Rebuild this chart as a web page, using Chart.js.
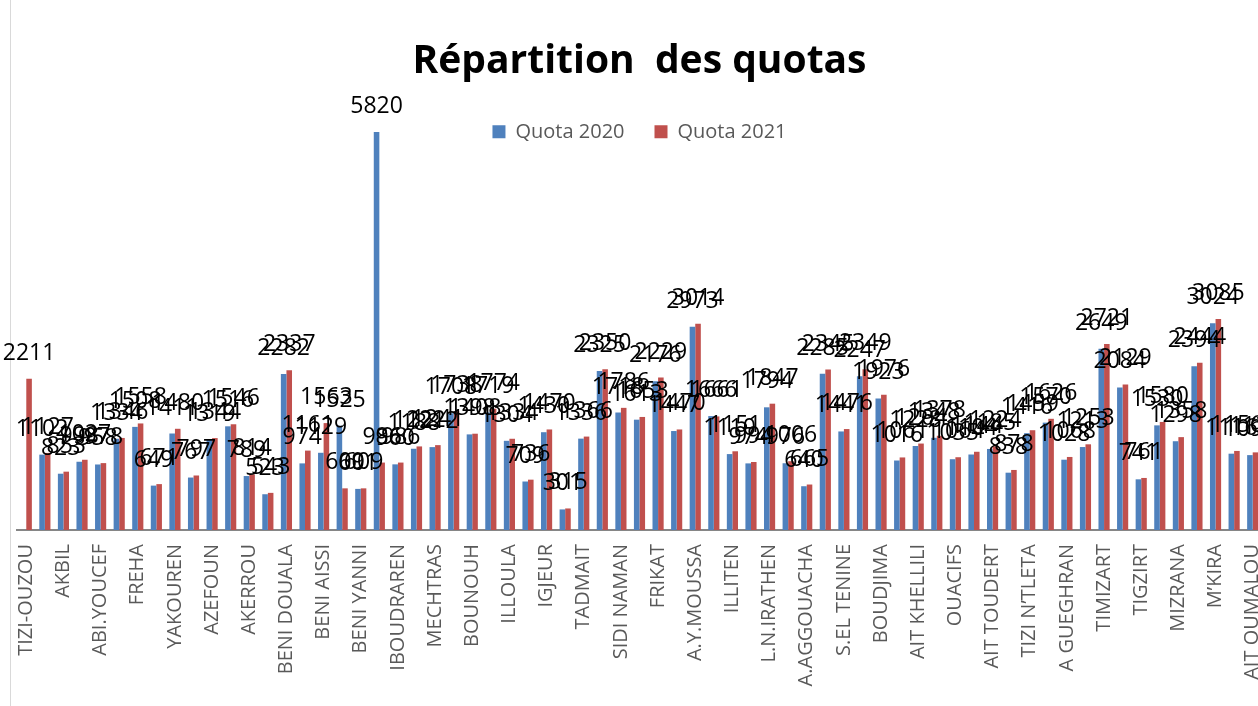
<!DOCTYPE html>
<html>
<head>
<meta charset="utf-8">
<script src="https://cdn.jsdelivr.net/npm/chart.js"></script>
<style>
    html, body { margin: 0; padding: 0; background: #fff; overflow: hidden; }
    #wrap { position: relative; width: 1258px; height: 706px; overflow: hidden; }
    #frame { position: absolute; left: 10px; top: 0; width: 1px; height: 706px; background: #d9d9d9; }
    #quotaChart { position: absolute; left: 0; top: 0; }
</style>
</head>
<body>
<div id="wrap">
    <div id="frame"></div>
    <canvas id="quotaChart" width="1262" height="706"></canvas>
</div>
<script>
// communes (seules les étiquettes visibles sont connues)
const communes = [
    'TIZI-OUZOU', '', 'AKBIL', '', 'ABI.YOUCEF', '', 'FREHA', '', 'YAKOUREN', '',
    'AZEFOUN', '', 'AKERROU', '', 'BENI DOUALA', '', 'BENI AISSI', '', 'BENI YANNI', '',
    'IBOUDRAREN', '', 'MECHTRAS', '', 'BOUNOUH', '', 'ILLOULA', '', 'IGJEUR', '',
    'TADMAIT', '', 'SIDI NAMAN', '', 'FRIKAT', '', 'A.Y.MOUSSA', '', 'ILLITEN', '',
    'L.N.IRATHEN', '', 'A.AGGOUACHA', '', 'S.EL TENINE', '', 'BOUDJIMA', '', 'AIT KHELLILI', '',
    'OUACIFS', '', 'AIT TOUDERT', '', 'TIZI N’TLETA', '', 'A GUEGHRAN', '', 'TIMIZART', '',
    'TIGZIRT', '', 'MIZRANA', '', 'M’KIRA', '', 'AIT OUMALOU'
];
const quota2020 = [
    null, 1102, 823, 998, 958, 1334, 1508, 649, 1411, 767,
    1319, 1516, 789, 523, 2282, 974, 1129, 1525, 601, 5820,
    960, 1188, 1212, 1708, 1398, 1719, 1304, 709, 1430, 301,
    1336, 2325, 1718, 1613, 2176, 1447, 2973, 1666, 1110, 974,
    1794, 976, 640, 2285, 1441, 2247, 1923, 1016, 1228, 1348,
    1035, 1104, 1185, 838, 1416, 1570, 1028, 1213, 2649, 2084,
    741, 1530, 1298, 2394, 3024, 1116, 1095
];
const quota2021 = [
    2211, 1127, 853, 1027, 978, 1346, 1558, 671, 1480, 797,
    1344, 1546, 814, 543, 2337, 1161, 1563, 609, 609, 986,
    986, 1222, 1241, 1738, 1408, 1774, 1334, 736, 1470, 315,
    1366, 2350, 1786, 1653, 2229, 1470, 3014, 1661, 1151, 994,
    1847, 1006, 665, 2345, 1476, 2349, 1976, 1061, 1264, 1378,
    1064, 1144, 1224, 878, 1459, 1626, 1068, 1253, 2721, 2129,
    761, 1580, 1358, 2444, 3085, 1156, 1135
];

// étiquettes de valeurs au-dessus de chaque barre
const valueLabels = {
    id: 'valueLabels',
    afterDatasetsDraw(chart) {
        const ctx = chart.ctx;
        ctx.save();
        ctx.font = '23px "Open Sans"';
        ctx.fillStyle = '#000';
        ctx.textAlign = 'center';
        ctx.textBaseline = 'alphabetic';
        chart.data.datasets.forEach((ds, i) => {
            chart.getDatasetMeta(i).data.forEach((bar, j) => {
                if (ds.data[j] == null) return;
                ctx.fillText(ds.data[j], bar.x, bar.y - 19);
            });
        });
        ctx.restore();
    }
};

new Chart(document.getElementById('quotaChart'), {
    type: 'bar',
    data: {
        labels: communes,
        datasets: [
            { label: 'Quota 2020', data: quota2020, backgroundColor: '#4F81BD', clip: false },
            { label: 'Quota 2021', data: quota2021, backgroundColor: '#C0504D', clip: false }
        ]
    },
    options: {
        responsive: false,
        animation: false,
        layout: { padding: { left: 17, right: 0, top: 0, bottom: 0 } },
        datasets: { bar: { categoryPercentage: 0.6, barPercentage: 1.0 } },
        plugins: {
            title: {
                display: true,
                text: 'Répartition  des quotas',
                color: '#000',
                font: { family: 'Open Sans', size: 39, weight: 'bold' },
                padding: { top: 38, bottom: 7 }
            },
            legend: {
                position: 'top',
                labels: {
                    boxWidth: 13,
                    boxHeight: 13,
                    padding: 30,
                    color: '#595959',
                    font: { family: 'Open Sans', size: 20 }
                }
            },
            tooltip: { enabled: false }
        },
        scales: {
            x: {
                grid: { display: false, drawTicks: false },
                border: { display: true, color: '#868686', width: 2 },
                ticks: {
                    autoSkip: false,
                    maxRotation: 90,
                    minRotation: 90,
                    padding: 14,
                    color: '#595959',
                    font: { family: 'Open Sans', size: 20 }
                },
                afterFit(scale) {
                    scale.height = 176;
                    scale.paddingLeft = 0;
                    scale.paddingRight = 0;
                }
            },
            y: {
                display: false,
                min: 0,
                max: 5530
            }
        }
    },
    plugins: [valueLabels]
});
</script>
</body>
</html>
